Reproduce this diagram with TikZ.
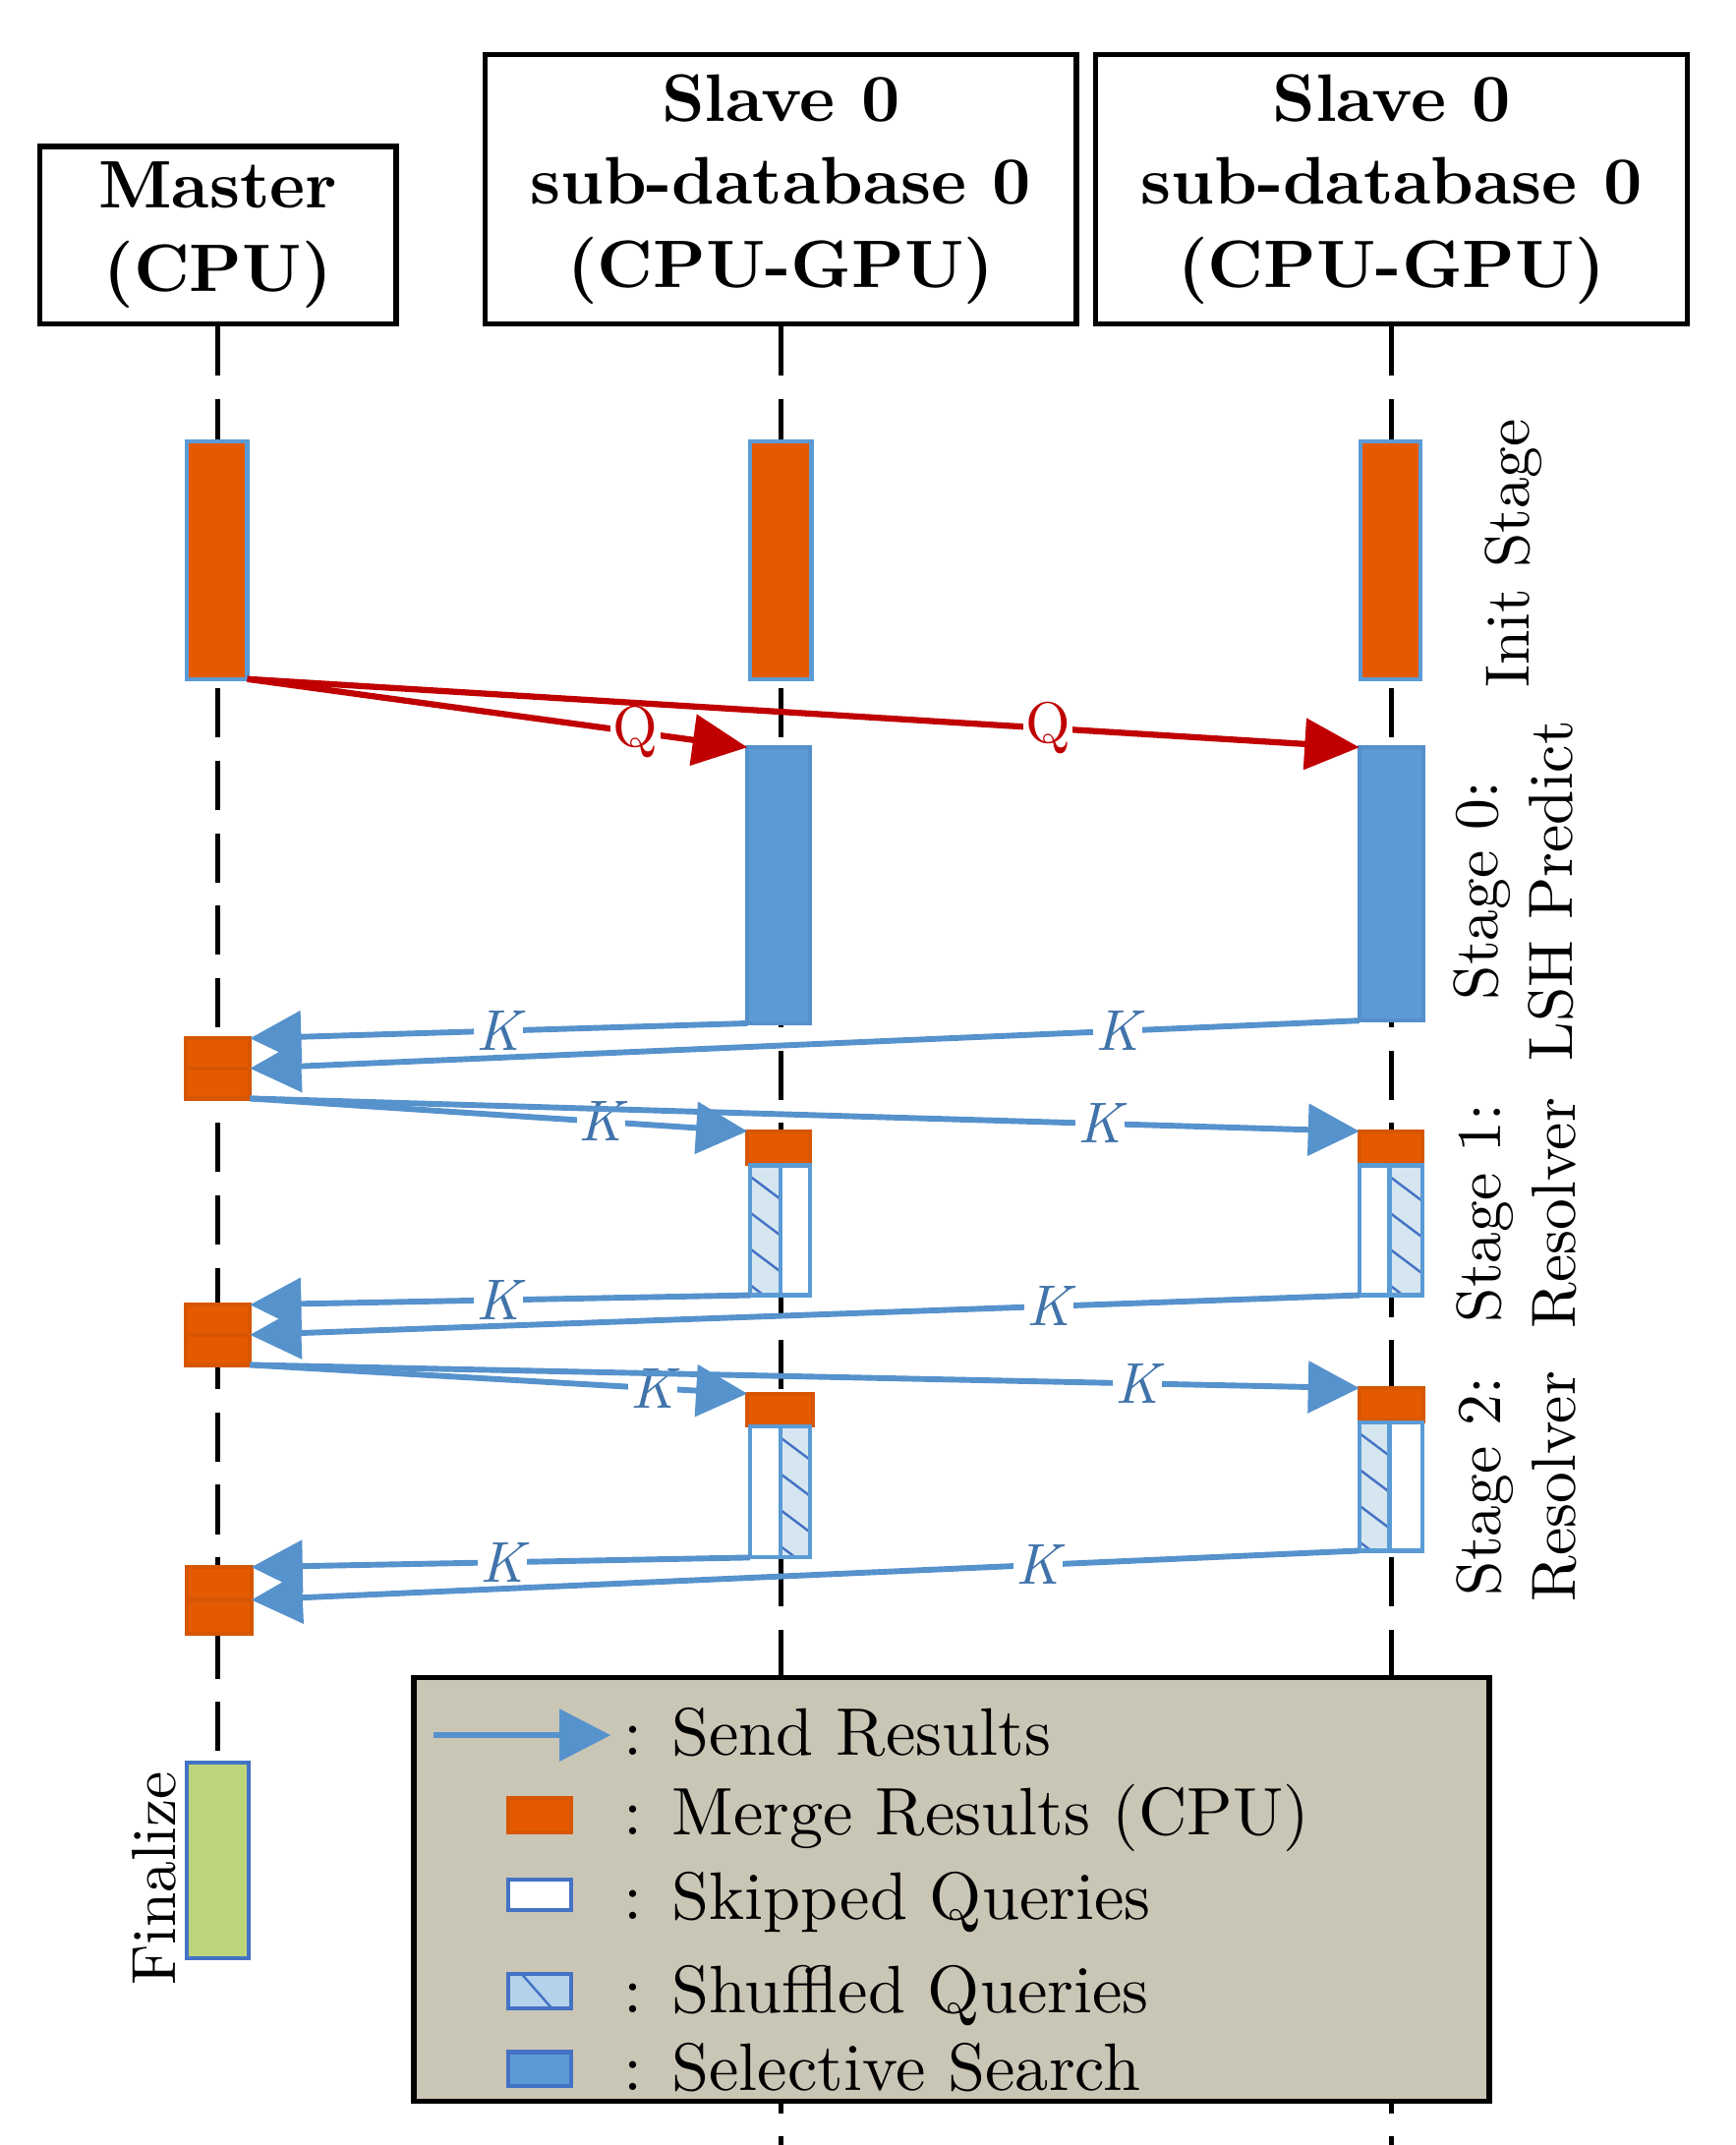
\documentclass[tikz,border=0pt]{standalone}
\usepackage{fontspec}
\setmainfont{lmroman10-regular.otf}[BoldFont=lmroman10-bold.otf, ItalicFont=lmroman10-italic.otf, BoldItalicFont=lmroman10-bolditalic.otf]
\usetikzlibrary{arrows.meta,fit}
\definecolor{orng}{RGB}{229,90,0}
\definecolor{orngdk}{RGB}{214,86,2}
\definecolor{bbar}{RGB}{91,155,213}
\definecolor{bbardk}{RGB}{84,144,204}
\definecolor{arrblue}{RGB}{86,146,204}
\definecolor{kblue}{RGB}{64,115,170}
\definecolor{qred}{RGB}{192,0,0}
\definecolor{legbg}{RGB}{202,198,182}
\definecolor{fingreen}{RGB}{190,212,122}
\definecolor{borderblue}{RGB}{68,114,196}
\definecolor{hatchbg}{RGB}{214,230,240}
\begin{document}
\begin{tikzpicture}[x=0.02cm,y=-0.02cm,
  hdr/.style={draw=black, line width=0.08cm, align=center, inner sep=0,
    font=\fontsize{28}{34.6}\selectfont\bfseries},
  lifeline/.style={draw=black, line width=0.07cm, dash pattern=on 0.72cm off 0.34cm},
  box/.style={inner sep=0, outer sep=0, line width=0.06cm},
  initbar/.style={box, fill=orng, draw=bbar},
  searchbar/.style={box, fill=bbar, draw=bbardk},
  mergebox/.style={box, fill=orng, draw=orngdk},
  skipbox/.style={box, fill=white, draw=bbar},
  hatchln/.style={draw=borderblue, line width=0.035cm},
  shufbox/.style={box, fill=hatchbg, draw=bbar,
    path picture={\foreach \k in {-1,...,4}{
      \draw[hatchln] (path picture bounding box.north west) ++(0,{\k*26.5+8}) -- ++(40,30);}}},
  legshuf/.style={box, fill=bbar!45, draw=borderblue,
    path picture={\draw[hatchln] (path picture bounding box.north west) ++(10,0) -- ++(22,25);}},
  finbox/.style={box, fill=fingreen, draw=borderblue},
  qarrow/.style={draw=qred, line width=0.09cm, -{Triangle[length=0.8cm,width=0.74cm]}},
  karrow/.style={draw=arrblue, line width=0.085cm, -{Triangle[length=0.75cm,width=0.75cm]}},
  qlabel/.style={fill=white, inner sep=1pt, text=qred, font=\fontsize{24}{24}\selectfont},
  klabel/.style={fill=white, inner sep=1pt, text=kblue, font=\fontsize{24}{24}\selectfont\itshape},
  stagelbl/.style={rotate=90, align=center, font=\fontsize{26}{31.3}\selectfont},
  legtext/.style={anchor=base west, inner sep=0, font=\fontsize{28}{34}\selectfont}
]
\useasboundingbox (0,0) rectangle (1270,1570);

% headers
\node[hdr, minimum width=5.22cm, minimum height=2.6cm] (master) at (159.5,172) {\raisebox{-4pt}{\parbox{5cm}{\centering Master\\(CPU)}}};
\node[hdr, minimum width=8.66cm, minimum height=3.94cm] (slave1) at (571.5,138.5) {\raisebox{-4pt}{\parbox{8.5cm}{\centering Slave 0\\sub-database 0\\(CPU-GPU)}}};
\node[hdr, minimum width=8.66cm, minimum height=3.94cm] (slave2) at (1018.5,138.5) {\raisebox{-4pt}{\parbox{8.5cm}{\centering Slave 0\\sub-database 0\\(CPU-GPU)}}};

% lifelines
\coordinate (mEnd) at (159.5,1290);
\coordinate (s1End) at (571.5,1570);
\coordinate (s2End) at (1018.5,1570);
\draw[lifeline] (master.south) -- (mEnd);
\draw[lifeline] (slave1.south) -- (s1End);
\draw[lifeline] (slave2.south) -- (s2End);

% init stage
\node[initbar, fit={(137,323) (181,497)}] (mi) {};
\node[initbar, fit={(549,323) (594,497)}] (s1i) {};
\node[initbar, fit={(996,323) (1040,497)}] (s2i) {};

% stage 0
\node[searchbar, fit={(547,547) (593,749)}] (s1b) {};
\node[searchbar, fit={(995,547) (1042,747)}] (s2b) {};
\node[mergebox, fit={(136,760) (183,782)}] (mm1a) {};
\node[mergebox, fit={(136,782) (183,804)}] (mm1b) {};

% stage 1
\node[mergebox, fit={(547,828) (593,852)}] (s1m1) {};
\node[shufbox, fit={(549,853) (571,948)}] (s1h1) {};
\node[skipbox, fit={(571,853) (593,948)}] (s1w1) {};
\node[mergebox, fit={(995,828) (1041,852)}] (s2m1) {};
\node[skipbox, fit={(995,853) (1017,948)}] (s2w1) {};
\node[shufbox, fit={(1017,853) (1041,948)}] (s2h1) {};
\node[mergebox, fit={(136,955) (183,977)}] (mm2a) {};
\node[mergebox, fit={(136,977) (183,999)}] (mm2b) {};

% stage 2
\node[mergebox, fit={(547,1020) (595,1043)}] (s1m2) {};
\node[skipbox, fit={(549,1044) (571,1140)}] (s1w2) {};
\node[shufbox, fit={(571,1044) (593,1140)}] (s1h2) {};
\node[mergebox, fit={(995,1016) (1042,1040)}] (s2m2) {};
\node[shufbox, fit={(995,1041) (1017,1135)}] (s2h2) {};
\node[skipbox, fit={(1017,1041) (1041,1135)}] (s2w2) {};
\node[mergebox, fit={(137,1147) (184,1171)}] (mm3a) {};
\node[mergebox, fit={(137,1171) (184,1196)}] (mm3b) {};

% finalize
\node[finbox, fit={(137,1290) (182,1433)}] (fin) {};

% arrows
\draw[qarrow] (mi.south east) -- node[qlabel, pos=0.776] (q1) {Q} (s1b.north west);
\draw[qarrow] (mi.south east) -- node[qlabel, pos=0.72] (q2) {Q} (s2b.north west);

\draw[karrow] (s1b.south west) -- node[klabel, pos=0.5] (k1) {K} (mm1a.north east);
\draw[karrow] (s2b.south west) -- node[klabel, pos=0.218] (k2) {K} (mm1b.north east);
\draw[karrow] (mm1b.south east) -- node[klabel, pos=0.706] (k3) {K} (s1m1.north west);
\draw[karrow] (mm1b.south east) -- node[klabel, pos=0.766] (k4) {K} (s2m1.north west);

\draw[karrow] (s1h1.south west) -- node[klabel, pos=0.503] (k5) {K} (mm2a.north east);
\draw[karrow] (s2w1.south west) -- node[klabel, pos=0.28] (k6) {K} (mm2b.north east);
\draw[karrow] (mm2b.south east) -- node[klabel, pos=0.81] (k7) {K} (s1m2.north west);
\draw[karrow] (mm2b.south east) -- node[klabel, pos=0.8] (k8) {K} (s2m2.north west);

\draw[karrow] (s1w2.south west) -- node[klabel, pos=0.497] (k9) {K} (mm3a.north east);
\draw[karrow] (s2h2.south west) -- node[klabel, pos=0.29] (k10) {K} (mm3b.north east);

% stage labels
\node[stagelbl] (lInit) at (1108,405) {Init Stage};
\node[stagelbl] (lS0) at (1108,652) {Stage 0:\\LSH Predict};
\node[stagelbl] (lS1) at (1110,888) {Stage 1:\\Resolver};
\node[stagelbl] (lS2) at (1110,1088) {Stage 2:\\Resolver};
\node[stagelbl] (lFin) at (113,1375) {Finalize};

% legend
\node[fill=legbg, draw=black, line width=0.08cm, inner sep=0, fit={(303,1228) (1090,1538)}] (legend) {};
\coordinate (lgA) at (317,1270);
\coordinate (lgB) at (447,1270);
\draw[karrow] (lgA) -- (lgB);
\node[mergebox, fit={(372,1316) (418,1341)}] (lgMerge) {};
\node[skipbox, draw=borderblue, fit={(372,1376) (418,1398)}] (lgSkip) {};
\node[legshuf, fit={(372,1445) (418,1470)}] (lgShuf) {};
\node[searchbar, draw=borderblue, fit={(372,1502) (418,1527)}] (lgSel) {};
\node[legtext] (tSend) at (456,1285) {: Send Results};
\node[legtext] (tMerge) at (456,1343) {: Merge Results (CPU)};
\node[legtext] (tSkip) at (456,1405) {: Skipped Queries};
\node[legtext] (tShuf) at (456,1473) {: Shuffled Queries};
\node[legtext] (tSel) at (456,1530) {: Selective Search};
\end{tikzpicture}
\end{document}
